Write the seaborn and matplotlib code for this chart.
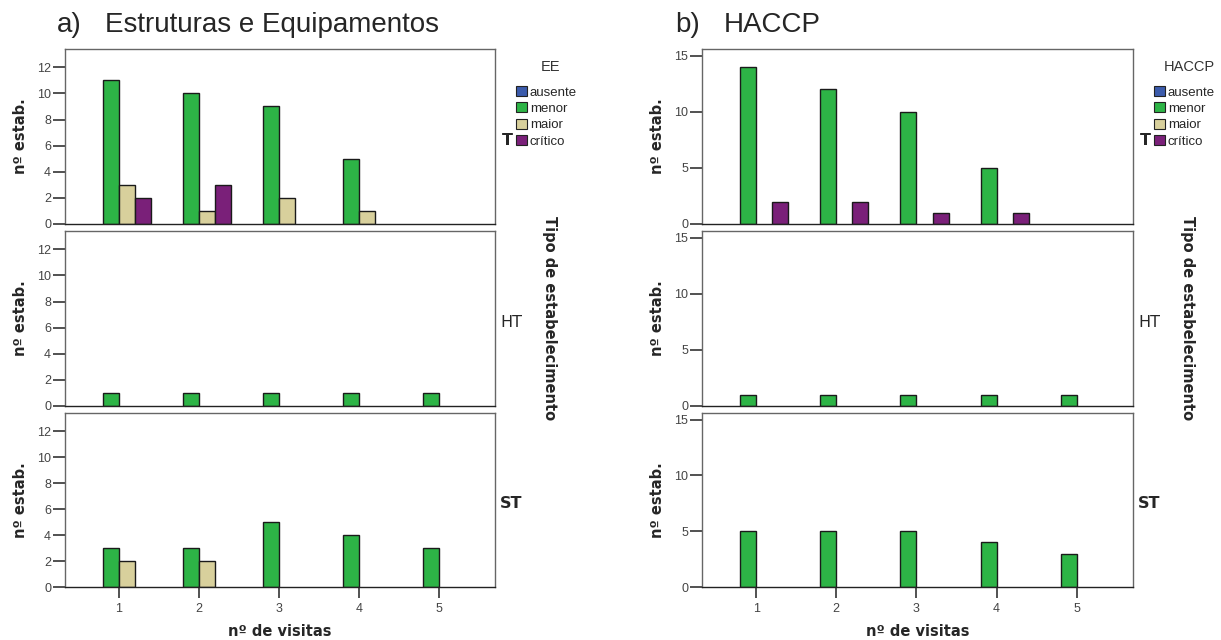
import numpy as np
import pandas as pd
import matplotlib
matplotlib.use("Agg")
import matplotlib.pyplot as plt
from matplotlib.patches import Patch
import seaborn as sns

## ------------------------------------------------------------------ ##
## data (counts per visit, zeros = no bar)
## ------------------------------------------------------------------ ##
visitas = ["1", "2", "3", "4", "5"]
niveis = ["ausente", "menor", "maior", "crítico"]
tipos = ["T", "HT", "ST"]

# a) Estruturas e Equipamentos
ee_T_menor = [11, 10, 9, 5, 0]
ee_T_maior = [3, 1, 2, 1, 0]
ee_T_critico = [2, 3, 0, 0, 0]
ee_HT_menor = [1, 1, 1, 1, 1]
ee_ST_menor = [3, 3, 5, 4, 3]
ee_ST_maior = [2, 2, 0, 0, 0]

# b) HACCP
haccp_T_menor = [14, 12, 10, 5, 0]
haccp_T_critico = [2, 2, 1, 1, 0]
haccp_HT_menor = [1, 1, 1, 1, 1]
haccp_ST_menor = [5, 5, 5, 4, 3]

cores = {"ausente": "#3b5bab", "menor": "#2db446",
         "maior": "#d8d09c", "crítico": "#7a2079"}


def long_table(series):
    # series: {(tipo, nivel): values}
    rows = []
    for (tipo, nivel), vals in series.items():
        for v, n in zip(visitas, vals):
            if n > 0:
                rows.append({"tipo": tipo, "nivel": nivel, "visita": v, "n": n})
    return pd.DataFrame(rows)


ee = long_table({
    ("T", "menor"): ee_T_menor, ("T", "maior"): ee_T_maior,
    ("T", "crítico"): ee_T_critico, ("HT", "menor"): ee_HT_menor,
    ("ST", "menor"): ee_ST_menor, ("ST", "maior"): ee_ST_maior,
})
haccp = long_table({
    ("T", "menor"): haccp_T_menor, ("T", "crítico"): haccp_T_critico,
    ("HT", "menor"): haccp_HT_menor, ("ST", "menor"): haccp_ST_menor,
})

## ------------------------------------------------------------------ ##
## layout (pixel boxes of the original, 1221 x 640)
## ------------------------------------------------------------------ ##
W, H = 1221, 640
sns.set_style("white")
plt.rcParams["font.family"] = ["Liberation Sans", "DejaVu Sans"]
bold_font = "DejaVu Sans"

fig = plt.figure(figsize=(W / 100, H / 100), dpi=100)


def fx(px):
    return px / W


def fy(py):
    return 1 - py / H


rows_px = [(49, 224), (231, 406), (413, 587)]
panels = [
    dict(df=ee, x0=65, x1=495, ymax=13.4, yticks=[0, 2, 4, 6, 8, 10, 12],
         tag="a)", tag_x=57, title="Estruturas e Equipamentos", title_x=105,
         leg_title="EE"),
    dict(df=haccp, x0=702, x1=1133, ymax=15.6, yticks=[0, 5, 10, 15],
         tag="b)", tag_x=675, title="HACCP", title_x=724,
         leg_title="HACCP"),
]

for p in panels:
    x0, x1 = p["x0"], p["x1"]
    for i, (tipo, (top, bot)) in enumerate(zip(tipos, rows_px)):
        ax = fig.add_axes([fx(x0), fy(bot), fx(x1 - x0), (bot - top) / H])
        sub = p["df"][p["df"]["tipo"] == tipo]
        sns.barplot(data=sub, x="visita", y="n", hue="nivel", order=visitas,
                    hue_order=niveis, palette=cores, dodge=True, saturation=1,
                    edgecolor="#1a1a1a", linewidth=1.0, width=0.8,
                    errorbar=None, legend=False, ax=ax)
        ax.set_xlim(-0.675, 4.7)
        ax.set_ylim(0, p["ymax"])
        ax.set_yticks(p["yticks"])
        ax.set_xlabel("")
        ax.set_ylabel("")
        for s in ax.spines.values():
            s.set_visible(True)
            s.set_color("#666666")
            s.set_linewidth(1.0)
        ax.spines["bottom"].set_color("#222222")
        ax.tick_params(axis="y", direction="out", length=9, width=1.2,
                       color="#333333", labelsize=9, labelcolor="#444444", pad=1, left=True)
        if i == 2:
            ax.tick_params(axis="x", direction="out", length=8, width=1.2,
                           color="#333333", labelsize=9, labelcolor="#444444",
                           pad=3.5, bottom=True)
        else:
            ax.tick_params(axis="x", bottom=False, labelbottom=False)

        # y title and row label
        fig.text(fx(x0 - 37), fy((top + bot) / 2), "nº estab.", rotation=90,
                 ha="right", va="center", fontsize=10.5, fontweight="bold",
                 family=bold_font)
        fig.text(fx(x1 + (7 if tipo == "T" else 5)), fy((top + bot) / 2 + 4), tipo,
                 ha="left", va="center", fontsize=11.5, family=bold_font,
                 fontweight="normal" if tipo == "HT" else "bold")

    # panel heading
    fig.text(fx(p["tag_x"]), fy(25), p["tag"], ha="left", va="center", fontsize=20)
    fig.text(fx(p["title_x"]), fy(25), p["title"], ha="left", va="center", fontsize=20)

    # legend
    handles = [Patch(facecolor=cores[n], edgecolor="#222222", linewidth=0.8, label=n)
               for n in niveis]
    fig.legend(handles=handles, loc="upper left",
               bbox_to_anchor=(fx(x1 + 21), fy(86)), frameon=False,
               fontsize=9.5, handlelength=0.8, handleheight=0.8,
               handletextpad=0.25, labelspacing=0.28,
               borderpad=0, borderaxespad=0)
    fig.text(fx(x1 + 56), fy(67), p["leg_title"], ha="center", va="center",
             fontsize=10.5, color="#333333")

    # facet label and x-axis title
    fig.text(fx(x1 + 55), fy(318), "Tipo de estabelecimento", rotation=270,
             ha="center", va="center", fontsize=10.5, fontweight="bold",
             family=bold_font)
    fig.text(fx((x0 + x1) / 2), fy(632), "nº de visitas", ha="center", va="center",
             fontsize=10.5, fontweight="bold", family=bold_font)

fig.savefig("out.png", dpi=100)
